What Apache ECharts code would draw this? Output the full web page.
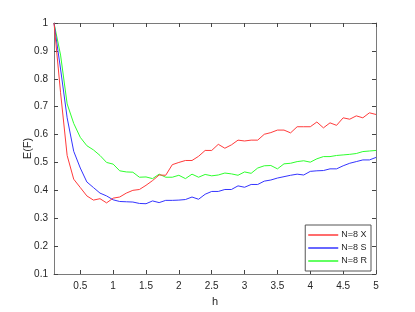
<!DOCTYPE html>
<html><head><meta charset="utf-8">
<script src="https://cdn.jsdelivr.net/npm/echarts@6/dist/echarts.min.js"></script>
<style>html,body{margin:0;padding:0;background:#fff}#c{width:415px;height:312px}</style>
</head><body><div id="c"></div>
<script>
const hValues = [0.1,0.2,0.3,0.4,0.5,0.6,0.7,0.8,0.9,1.0,1.1,1.2,1.3,1.4,1.5,1.6,1.7,1.8,1.9,2.0,2.1,2.2,2.3,2.4,2.5,2.6,2.7,2.8,2.9,3.0,3.1,3.2,3.3,3.4,3.5,3.6,3.7,3.8,3.9,4.0,4.1,4.2,4.3,4.4,4.5,4.6,4.7,4.8,4.9,5.0];
const seriesNames = ['N=8 X','N=8 S','N=8 R'];
const valuesX = [1.0,0.75,0.525,0.44,0.41,0.38,0.365,0.37,0.355,0.372,0.376,0.39,0.40,0.403,0.418,0.435,0.455,0.454,0.492,0.50,0.507,0.507,0.522,0.543,0.543,0.565,0.551,0.563,0.58,0.577,0.58,0.58,0.601,0.607,0.616,0.616,0.606,0.628,0.628,0.628,0.645,0.624,0.642,0.633,0.66,0.655,0.667,0.66,0.678,0.672];
const valuesS = [1.0,0.835,0.66,0.54,0.48,0.43,0.41,0.39,0.38,0.366,0.36,0.359,0.358,0.353,0.352,0.362,0.356,0.364,0.364,0.365,0.367,0.376,0.368,0.386,0.396,0.396,0.403,0.403,0.416,0.411,0.421,0.421,0.433,0.437,0.444,0.449,0.454,0.458,0.455,0.468,0.470,0.471,0.477,0.477,0.488,0.497,0.503,0.509,0.509,0.518];
const valuesR = [1.0,0.885,0.71,0.64,0.59,0.56,0.545,0.525,0.50,0.494,0.47,0.466,0.465,0.447,0.448,0.442,0.458,0.447,0.447,0.454,0.442,0.458,0.447,0.457,0.452,0.455,0.462,0.459,0.454,0.466,0.461,0.48,0.488,0.489,0.477,0.495,0.497,0.503,0.506,0.501,0.513,0.521,0.521,0.525,0.527,0.529,0.532,0.539,0.541,0.543];
const xTicks = [0.5,1,1.5,2,2.5,3,3.5,4,4.5,5];
const yTicks = [0.1,0.2,0.3,0.4,0.5,0.6,0.7,0.8,0.9,1];
const colors = ['#ff3b3b','#3434ff','#2eff2e'];

const chart = echarts.init(document.getElementById('c'), null, {renderer:'canvas'});
const font = 'Liberation Sans, Helvetica, Arial, sans-serif';
const axisLineStyle = {color:'#7a7a7a', width:1};
function xAxisDef(pos, show){
  return {
    type:'value', min:0.1, max:5, position:pos,
    axisLine:{show:true, onZero:false, lineStyle:axisLineStyle},
    axisTick:{show:true, inside:true, length:4, customValues:xTicks, lineStyle:{color:'#444'}},
    axisLabel:{show:show, customValues:xTicks, formatter:v=>String(+v.toFixed(1)), color:'#262626', fontSize:10, fontFamily:font, margin:7},
    splitLine:{show:false},
    name: show ? 'h' : '', nameLocation:'middle', nameGap:22, nameMoveOverlap:false,
    nameTextStyle:{color:'#262626', fontSize:11, fontFamily:font}
  };
}
function yAxisDef(pos, show){
  return {
    type:'value', min:0.1, max:1, interval:0.1, position:pos,
    axisLine:{show:true, onZero:false, lineStyle:axisLineStyle},
    axisTick:{show:true, inside:true, length:4, customValues:yTicks, lineStyle:{color:'#444'}},
    axisLabel:{show:show, customValues:yTicks, formatter:v=>String(+v.toFixed(1)), color:'#262626', fontSize:10, fontFamily:font, margin:6},
    splitLine:{show:false},
    name: show ? 'E(F)' : '', nameLocation:'middle', nameGap:21, nameMoveOverlap:false,
    nameTextStyle:{color:'#262626', fontSize:11, fontFamily:font}
  };
}
const allValues = [valuesX, valuesS, valuesR];
chart.setOption({
  animation:false,
  backgroundColor:'#fff',
  grid:{left:54, right:39, top:23, bottom:35, containLabel:false},
  xAxis:[xAxisDef('bottom', true), xAxisDef('top', false)],
  yAxis:[yAxisDef('left', true), yAxisDef('right', false)],
  legend:{
    data:seriesNames.map(n=>({name:n, icon:'rect'})), orient:'vertical', right:44, bottom:41,
    itemWidth:30, itemHeight:1.5, itemGap:3,
    padding:[5,4,5,3],
    borderColor:'#555', borderWidth:1, backgroundColor:'#fff',
    textStyle:{color:'#262626', fontSize:9, lineHeight:10, fontFamily:font, padding:[0,0,0,-2]}
  },
  series: seriesNames.map((n,i)=>({
    name:n, type:'line', xAxisIndex:0, yAxisIndex:0,
    data: hValues.map((h,j)=>[h, allValues[i][j]]),
    symbol:'none', lineStyle:{color:colors[i], width:1}, itemStyle:{color:colors[i]},
    z: 3 - i
  }))
});
</script>
</body></html>
